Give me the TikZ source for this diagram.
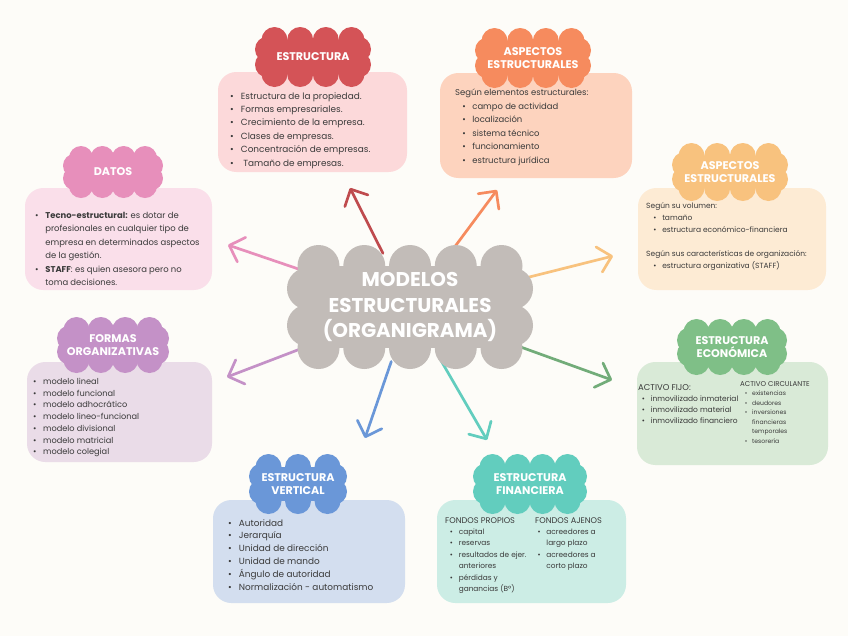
\documentclass[tikz,border=0pt]{standalone}
\usepackage{fontspec}
\setmainfont{Poppins}
\usepackage{xcolor}
\usetikzlibrary{arrows.meta, shapes.geometric}
\definecolor{paper}{HTML}{FDFCF8}
\definecolor{ink}{HTML}{3A3A3A}
\definecolor{kgrey}{HTML}{C2BCB8}
\definecolor{kred}{HTML}{D45357}
\definecolor{kredbg}{HTML}{FCD9DA}
\definecolor{korange}{HTML}{F68B5E}
\definecolor{korangebg}{HTML}{FDD3BE}
\definecolor{kpink}{HTML}{E78FBB}
\definecolor{kpinkbg}{HTML}{FADFEA}
\definecolor{kapricot}{HTML}{F8C27E}
\definecolor{kapricotbg}{HTML}{FDEBD4}
\definecolor{kpurple}{HTML}{C491C7}
\definecolor{kpurplebg}{HTML}{EADCE8}
\definecolor{kgreen}{HTML}{7FBF87}
\definecolor{kgreenbg}{HTML}{D9EAD7}
\definecolor{kblue}{HTML}{6A97D8}
\definecolor{kbluebg}{HTML}{D3DEEF}
\definecolor{kteal}{HTML}{62CDBE}
\definecolor{ktealbg}{HTML}{CCEDE5}
\newcommand{\itm}{\makebox[1.2em][l]{\textbullet}}
\newcommand{\cnt}{\hspace*{1.2em}}
% scalloped cloud: cx, cy, half width, half height, puff radius, puffs per row, colour
\newcommand{\puffcloud}[7]{%
  \fill[#7] (#1-#3+#5,#2-#4+#5) rectangle (#1+#3-#5,#2+#4-#5);
  \foreach \k in {1,...,#6}{
    \pgfmathsetmacro{\px}{#1-#3+1.5*#5+(\k-1)*(2*#3-3*#5)/(#6-1)}
    \fill[#7] (\px,#2-#4+#5) circle [radius=#5];
    \fill[#7] (\px,#2+#4-#5) circle [radius=#5];
  }
  \foreach \s in {-1,1}{
    \fill[#7] (#1-#3+#5,#2+\s*0.45*#4-\s*0.45*#5) circle [radius=#5];
    \fill[#7] (#1+#3-#5,#2+\s*0.45*#4-\s*0.45*#5) circle [radius=#5];
  }
}

\begin{document}
\begin{tikzpicture}[x=0.03cm, y=-0.03cm,
  card/.style={rounded corners=0.55cm},
  title/.style={inner sep=0pt, text=white, align=center,
    font=\fontsize{9.5}{11.5}\selectfont\bfseries},
  body/.style={anchor=north west, align=left, inner sep=0pt, text=ink},
  ray/.style={line width=2.3pt, line cap=round,
    -{Straight Barb[length=11pt, width=22pt, round]}}]
\useasboundingbox (0,0) rectangle (848,636);
\fill[paper] (0,0) rectangle (848,636);

% centre (outline used by the arrows)
\node[ellipse, inner sep=0pt, minimum width=6.9cm, minimum height=3.3cm] (main) at (410,307) {};

% arrows
\coordinate (tip-estr) at (350,188);
\coordinate (tip-asp1) at (497,190);
\coordinate (tip-datos) at (228,245);
\coordinate (tip-asp2) at (613,256);
\coordinate (tip-formas) at (227,377);
\coordinate (tip-econ) at (612,380);
\coordinate (tip-vert) at (365,438);
\coordinate (tip-fin) at (487,440);
\draw[ray, kred!90!black] (main) -- (tip-estr);
\draw[ray, korange] (main) -- (tip-asp1);
\draw[ray, kpink] (main) -- (tip-datos);
\draw[ray, kapricot] (main) -- (tip-asp2);
\draw[ray, kpurple] (main) -- (tip-formas);
\draw[ray, kgreen!90!black] (main) -- (tip-econ);
\draw[ray, kblue] (main) -- (tip-vert);
\draw[ray, kteal] (main) -- (tip-fin);

\puffcloud{410}{307}{123}{62}{21}{5}{kgrey}
\node[title, font=\fontsize{17}{21.5}\selectfont\bfseries] (main-title) at (410,307)
  {MODELOS\\ESTRUCTURALES\\(ORGANIGRAMA)};

% estructura
\fill[kredbg, card] (218,72) rectangle (407,172);
\node[body, font=\fontsize{7.6}{11.5}\selectfont] (estr-txt) at (230,92)
  {\itm Estructura de la propiedad.\\ \itm Formas empresariales.\\
   \itm Crecimiento de la empresa.\\ \itm Clases de empresas.\\
   \itm Concentración de empresas.\\ \itm\ Tamaño de empresas.};
\puffcloud{313}{57}{58}{30}{13}{4}{kred}
\node[title] (estr) at (313,57) {ESTRUCTURA};

% aspectos estructurales (1)
\fill[korangebg, card] (440,73) rectangle (632,178);
\node[body, font=\fontsize{7.2}{11.5}\selectfont] (asp1-txt) at (455,89)
  {Según elementos estructurales:\\
   \hspace*{6pt}\itm campo de actividad\\ \hspace*{6pt}\itm localización\\
   \hspace*{6pt}\itm sistema técnico\\ \hspace*{6pt}\itm funcionamiento\\
   \hspace*{6pt}\itm estructura jurídica};
\puffcloud{533}{58}{58}{30}{13}{4}{korange}
\node[title] (asp1) at (533,58) {ASPECTOS\\ESTRUCTURALES};

% datos
\fill[kpinkbg, card] (25,188) rectangle (212,290);
\node[body, font=\fontsize{7.2}{11.5}\selectfont] (datos-txt) at (35,212)
  {\itm \textbf{Tecno-estructural:} es dotar de\\
   \cnt profesionales en cualquier tipo de\\
   \cnt empresa en determinados aspectos\\
   \cnt de la gestión.\\
   \itm \textbf{STAFF}: es quien asesora pero no\\
   \cnt toma decisiones.};
\puffcloud{113}{172}{50}{26}{12}{4}{kpink}
\node[title] (datos) at (113,172) {DATOS};

% aspectos estructurales (2)
\fill[kapricotbg, card] (638,188) rectangle (826,290);
\node[body, font=\fontsize{6.4}{10.2}\selectfont] (asp2-txt) at (646,202)
  {Según su volumen:\\
   \hspace*{6pt}\itm tamaño\\ \hspace*{6pt}\itm estructura económico-financiera\\[10.5pt]
   Según sus características de organización:\\
   \hspace*{6pt}\itm estructura organizativa (STAFF)};
\puffcloud{730}{172}{58}{29}{13}{4}{kapricot}
\node[title] (asp2) at (730,172) {ASPECTOS\\ESTRUCTURALES};

% formas organizativas
\fill[kpurplebg, card] (27,362) rectangle (212,462);
\node[body, font=\fontsize{7}{10}\selectfont] (formas-txt) at (33,378)
  {\itm modelo lineal\\ \itm modelo funcional\\ \itm modelo adhocrático\\
   \itm modelo lineo-funcional\\ \itm modelo divisional\\
   \itm modelo matricial\\ \itm modelo colegial};
\puffcloud{113}{345}{56}{28}{13}{4}{kpurple}
\node[title] (formas) at (113,345) {FORMAS\\ORGANIZATIVAS};

% estructura economica
\fill[kgreenbg, card] (637,362) rectangle (828,465);
\node[body, font=\fontsize{6.4}{9.4}\selectfont] (econ-fijo) at (638,384)
  {{\fontsize{7.2}{9.4}\selectfont ACTIVO FIJO:}\\ \hspace*{3pt}\itm inmovilizado inmaterial\\
   \hspace*{3pt}\itm inmovilizado material\\ \hspace*{3pt}\itm inmovilizado financiero};
\node[body, font=\fontsize{5.2}{8.1}\selectfont] (econ-circ) at (740,381)
  {{\fontsize{6}{8}\selectfont ACTIVO CIRCULANTE}\\
   \hspace*{4pt}\itm existencias\\ \hspace*{4pt}\itm deudores\\
   \hspace*{4pt}\itm inversiones\\ \hspace*{4pt}\cnt financieras\\
   \hspace*{4pt}\cnt temporales\\ \hspace*{4pt}\itm tesorería};
\puffcloud{732}{347}{55}{28}{13}{4}{kgreen}
\node[title] (econ) at (732,347) {ESTRUCTURA\\ECONÓMICA};

% estructura vertical
\fill[kbluebg, card] (213,500) rectangle (405,603);
\node[body, font=\fontsize{7.6}{11}\selectfont] (vert-txt) at (228,519)
  {\itm Autoridad\\ \itm Jerarquía\\ \itm Unidad de dirección\\
   \itm Unidad de mando\\ \itm Ángulo de autoridad\\
   \itm Normalización - automatismo};
\puffcloud{298}{484}{49}{30}{13}{3}{kblue}
\node[title] (vert) at (298,484) {ESTRUCTURA\\VERTICAL};

% estructura financiera
\fill[ktealbg, card] (437,500) rectangle (626,603);
\node[body, font=\fontsize{6.3}{9.8}\selectfont] (fin-prop) at (445,517)
  {{\fontsize{7}{9.8}\selectfont FONDOS PROPIOS}\\
   \hspace*{4pt}\itm capital\\ \hspace*{4pt}\itm reservas\\
   \hspace*{4pt}\itm resultados de ejer.\\ \hspace*{4pt}\cnt anteriores\\
   \hspace*{4pt}\itm pérdidas y\\ \hspace*{4pt}\cnt ganancias (Bº)};
\node[body, font=\fontsize{6.3}{9.8}\selectfont] (fin-ajen) at (535,517)
  {{\fontsize{7}{9.8}\selectfont FONDOS AJENOS}\\
   \hspace*{2pt}\itm acreedores a\\ \hspace*{2pt}\cnt largo plazo\\
   \hspace*{2pt}\itm acreedores a\\ \hspace*{2pt}\cnt corto plazo};
\puffcloud{530}{484}{57}{30}{13}{4}{kteal}
\node[title] (fin) at (530,484) {ESTRUCTURA\\FINANCIERA};
\end{tikzpicture}
\end{document}
